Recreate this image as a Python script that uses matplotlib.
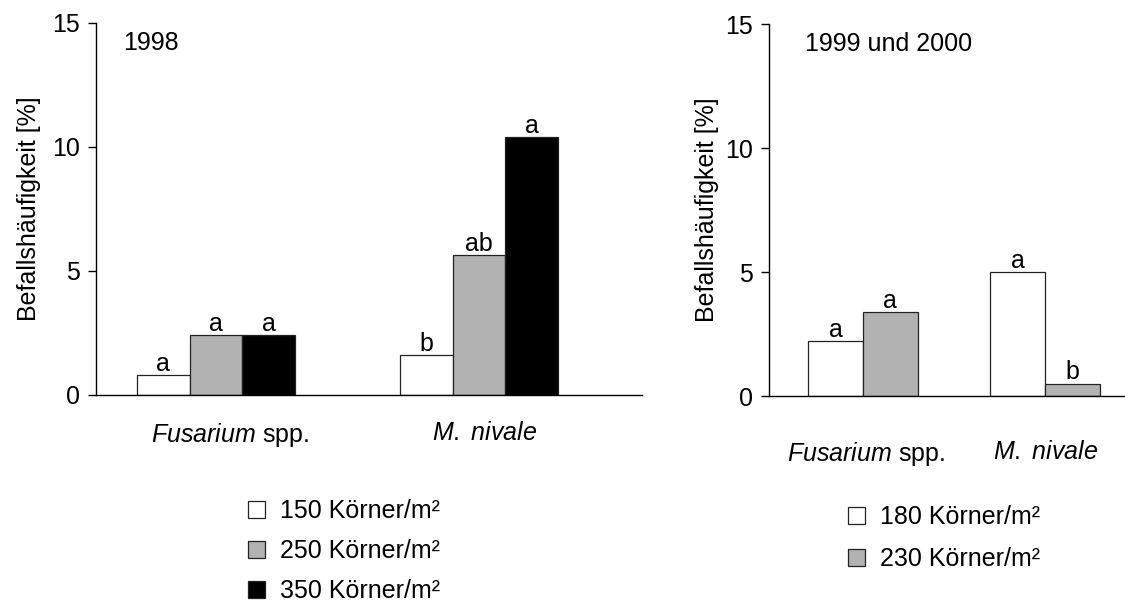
import matplotlib
matplotlib.use('Agg')
import matplotlib.pyplot as plt
from matplotlib.transforms import ScaledTranslation
import numpy as np

plt.rcParams['font.family'] = ['Liberation Sans', 'DejaVu Sans']
plt.rcParams['mathtext.fontset'] = 'custom'
plt.rcParams['mathtext.rm'] = 'Liberation Sans'
plt.rcParams['mathtext.it'] = 'Liberation Sans:italic'

# categories on the x axis
categories = [r'$\mathit{Fusarium}$ spp.', r'$\mathit{M.\ nivale}$']

# 1998: seed rates and values (Fusarium, M. nivale)
labels_98 = ['150 Körner/m²', '250 Körner/m²', '350 Körner/m²']
k150 = [0.8, 1.6]
k250 = [2.4, 5.65]
k350 = [2.4, 10.4]
letters_98 = [['a', 'b'], ['a', 'ab'], ['a', 'a']]
colors_98 = ['white', '#b2b2b2', 'black']

# 1999 und 2000
labels_9900 = ['180 Körner/m²', '230 Körner/m²']
k180 = [2.2, 5.0]
k230 = [3.4, 0.5]
letters_9900 = [['a', 'a'], ['a', 'b']]
colors_9900 = ['white', '#b2b2b2']

FS = 18
W, H = 1125, 605
fig = plt.figure(figsize=(W / 100, H / 100), dpi=100)


def px_axes(x0, y0, x1, y1):
    # pixel box (top-left origin) -> figure fraction
    return fig.add_axes([x0 / W, 1 - y1 / H, (x1 - x0) / W, (y1 - y0) / H])


def draw_panel(ax, series, letters, colors, names, width, xlim, year, yearx, pad, labelx, shift):
    x = np.arange(len(categories))
    n = len(series)
    handles = []
    for i, vals in enumerate(series):
        off = (i - (n - 1) / 2) * width
        b = ax.bar(x + off, vals, width, color=colors[i], edgecolor='#222222',
                   linewidth=0.9, label=names[i])
        handles.append(b)
        for j, v in enumerate(vals):
            ax.annotate(letters[i][j], (x[j] + off, v), xytext=(0, 3),
                        textcoords='offset points', ha='center', va='baseline',
                        fontsize=FS)
    ax.set_xlim(*xlim)
    ax.set_ylim(0, 15)
    ax.set_yticks([0, 5, 10, 15])
    ax.set_xticks(x)
    ax.set_xticklabels(categories, fontsize=FS)
    ax.tick_params(axis='x', length=0, pad=pad)
    ax.tick_params(axis='y', length=6, width=1, pad=5.5, labelsize=FS, direction='out')
    # small sideways nudge of the category names
    for lab, dx in zip(ax.get_xticklabels(), shift):
        lab.set_transform(lab.get_transform() + ScaledTranslation(dx / 100, 0, fig.dpi_scale_trans))
    for s in ['top', 'right']:
        ax.spines[s].set_visible(False)
    for s in ['left', 'bottom']:
        ax.spines[s].set_linewidth(1)
    ax.set_ylabel('Befallshäufigkeit [%]', fontsize=FS)
    ax.yaxis.set_label_coords(labelx, 0.5)
    ax.text(yearx, 0.946, year, transform=ax.transAxes,
            fontsize=FS, ha='left', va='center')
    return handles


ax1 = px_axes(96, 23, 642, 395)
h1 = draw_panel(ax1, [k150, k250, k350], letters_98, colors_98, labels_98,
                0.2, (-0.456, 1.62), '1998', 0.049, 19, -0.10, [14, 6])

ax2 = px_axes(769, 24, 1125, 396)
h2 = draw_panel(ax2, [k180, k230], letters_9900, colors_9900, labels_9900,
                0.3, (-0.516, 1.44), '1999 und 2000', 0.101, 32, -0.14, [3, 1])

leg_kw = dict(frameon=False, fontsize=FS, handlelength=0.66, handleheight=0.66,
              handletextpad=0.6, labelspacing=0.64, borderpad=0, borderaxespad=0)
fig.legend(handles=h1, labels=labels_98, loc='upper left',
           bbox_to_anchor=(248 / W, 1 - 499 / H), **leg_kw)
fig.legend(handles=h2, labels=labels_9900, loc='upper left',
           bbox_to_anchor=(848 / W, 1 - 505 / H), labelspacing=0.72,
           **{k: v for k, v in leg_kw.items() if k != 'labelspacing'})

fig.savefig('out.png', dpi=100)
